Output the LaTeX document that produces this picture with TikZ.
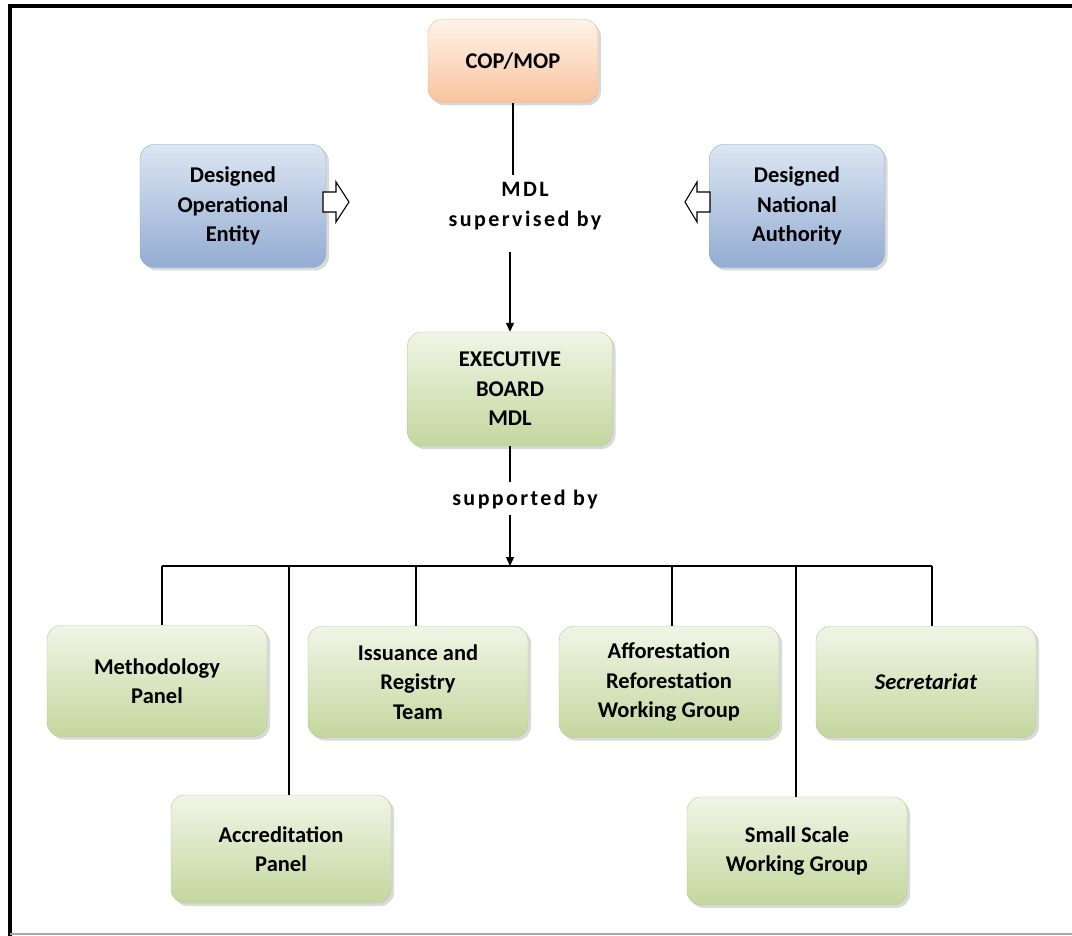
\documentclass[tikz,border=0pt]{standalone}
\usepackage{fontspec}
\setmainfont{Carlito}
\usetikzlibrary{arrows.meta,shadows}
\definecolor{orangetop}{HTML}{FFF3EA}
\definecolor{orangebot}{HTML}{F8C49E}
\definecolor{orangeline}{HTML}{EDB38C}
\definecolor{bluetop}{HTML}{DCE6F3}
\definecolor{bluebot}{HTML}{93ACD2}
\definecolor{blueline}{HTML}{8EA7CC}
\definecolor{greentop}{HTML}{F0F5E6}
\definecolor{greenbot}{HTML}{C4D79E}
\definecolor{greenline}{HTML}{B3C98B}
\tikzset{
  box/.style={rounded corners=14pt, align=center, inner sep=0,
    font=\fontsize{22.5}{29.5}\selectfont\bfseries,
    drop shadow={shadow xshift=3pt, shadow yshift=-3pt, opacity=0.3}},
  orangebox/.style={box, draw=orangeline, top color=orangetop, bottom color=orangebot},
  bluebox/.style={box, draw=blueline, top color=bluetop, bottom color=bluebot},
  greenbox/.style={box, draw=greenline, top color=greentop, bottom color=greenbot,
    minimum width=220pt, minimum height=111pt},
  lbl/.style={font=\fontsize{22}{30}\selectfont\bfseries\addfontfeature{LetterSpace=11}, align=center},
  link/.style={line width=1.3pt},
  arr/.style={link, -{Triangle[length=9pt, width=8pt]}},
  hollow/.style={line width=1.1pt, fill=white, line join=miter},
}
\begin{document}
\begin{tikzpicture}[x=1pt, y=-1pt]
\useasboundingbox (0,0) rectangle (1072,936);
% frame
\draw[line width=4pt] (10,936) -- (10,6) -- (1072,6);
\draw[line width=1.5pt, black!35] (10,934) -- (1072,934);

% top part
\node[orangebox, minimum width=170pt, minimum height=83pt] (cop) at (513,61) {COP/MOP};
\node[bluebox, minimum width=186pt, minimum height=123pt] (doe) at (233,206) {Designed\\Operational\\Entity};
\node[bluebox, minimum width=175pt, minimum height=123pt] (dna) at (797,206) {Designed\\National\\Authority};
\node[lbl] (supervised) at (525,206) {MDL\\supervised by};
\node[greenbox, minimum width=205pt, minimum height=114pt] (board) at (510,389) {EXECUTIVE\\BOARD\\MDL};
\node[lbl] (supported) at (525,500) {supported by};

\draw[link] (cop.south) -- (cop.south |- 0,175);
\draw[arr] (board.north |- 0,252) -- (board.north);
\draw[link] (board.south) -- (board.south |- 0,482);
\coordinate (bus) at (board.south |- 0,566);
\draw[arr] (board.south |- 0,515) -- (bus);

% hollow arrows
\draw[hollow] (323,192) -- (336,192) -- (336,182) -- (349,202) -- (336,222) -- (336,212) -- (323,212) -- cycle;
\draw[hollow] (710,192) -- (697,192) -- (697,182) -- (685,202) -- (697,222) -- (697,212) -- (710,212) -- cycle;

% panels
\node[greenbox] (method) at (157,681) {Methodology\\Panel};
\node[greenbox] (issuance) at (418,682) {Issuance and\\Registry\\Team};
\node[greenbox] (affor) at (669,682) {Afforestation\\Reforestation\\Working Group};
\node[greenbox, font=\fontsize{22.5}{29.5}\selectfont\bfseries\itshape] (secret) at (926,682) {Secretariat};
\node[greenbox, minimum height=108pt] (accred) at (281,849) {Accreditation\\Panel};
\node[greenbox, minimum height=108pt] (small) at (797,851) {Small Scale\\Working Group};

\draw[link] (162,566) -- (932,566);
\draw[link] (162,566) -- (method.north -| 162,0);
\draw[link] (289,566) -- (accred.north -| 289,0);
\draw[link] (416,566) -- (issuance.north -| 416,0);
\draw[link] (672,566) -- (affor.north -| 672,0);
\draw[link] (796,566) -- (small.north -| 796,0);
\draw[link] (932,566) -- (secret.north -| 932,0);
\end{tikzpicture}
\end{document}
